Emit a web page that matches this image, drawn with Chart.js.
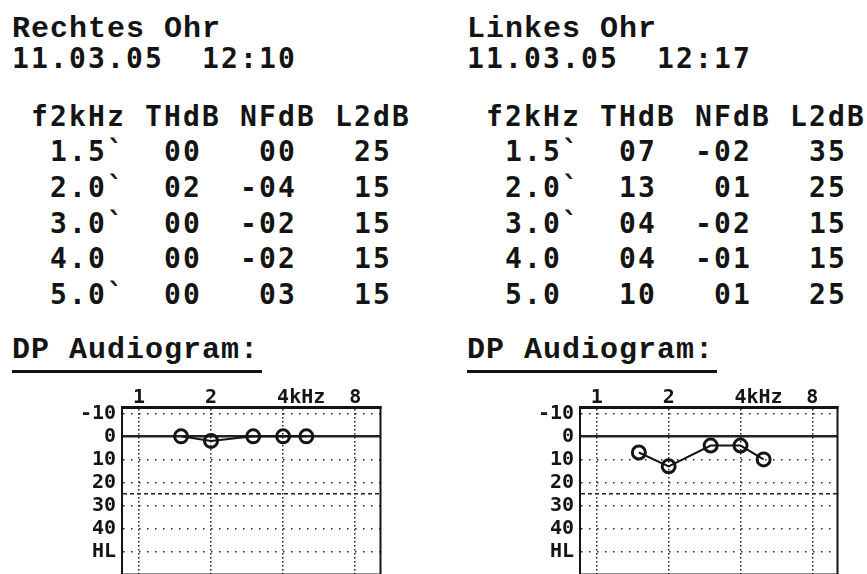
<!DOCTYPE html>
<html>
<head>
<meta charset="utf-8">
<script src="https://cdn.jsdelivr.net/npm/chart.js@4"></script>
<style>
html, body { margin: 0; padding: 0; background: #fff; overflow: hidden; }
body { width: 867px; height: 574px; position: relative; }
.t { position: absolute; white-space: pre; color: #141414; font-weight: bold; line-height: 0; }
.mono { font-family: 'DejaVu Sans Mono'; font-size: 28px; letter-spacing: 2.14px; }
.ser { font-family: 'Liberation Mono'; font-size: 30px; letter-spacing: 1px; }
.rule { position: absolute; height: 3px; background: #141414; }
canvas { position: absolute; }
</style>
</head>
<body>
<canvas id="rightEar" width="320" height="204" style="left:70px;top:380px;width:320px;height:204px"></canvas>
<canvas id="leftEar" width="319" height="204" style="left:528px;top:380px;width:319px;height:204px"></canvas>
<script>
// f2 frequencies in kHz
const freqs = [1.5, 2.0, 3.0, 4.0, 5.0];

// Rechtes Ohr
const rightMarks = ['`', '`', '`', ' ', '`'];
const rightTH = [0, 2, 0, 0, 0];
const rightNF = [0, -4, -2, -2, 3];
const rightL2 = [25, 15, 15, 15, 15];

// Linkes Ohr
const leftMarks = ['`', '`', '`', ' ', ' '];
const leftTH = [7, 13, 4, 4, 10];
const leftNF = [-2, 1, -2, -1, 1];
const leftL2 = [35, 25, 15, 15, 25];

const xTicks = [1, 2, 4, 8];
const xTickLabels = ['1', '2', '4kHz', '8'];
const yTicks = [-10, 0, 10, 20, 25, 30, 40, 50];

function pad2(v) { return String(Math.abs(v)).padStart(2, '0'); }
function nf(v) { return (v < 0 ? '-' : ' ') + pad2(v); }

function put(txt, x, base, cls) {
    var d = document.createElement('div');
    d.className = 't ' + cls;
    d.textContent = txt;
    var off = cls === 'mono' ? 9.7 : 8.0;
    d.style.left = x + 'px';
    d.style.top = (base - off) + 'px';
    document.body.appendChild(d);
}

function block(x0, dy, title, time, marks, th, nfv, l2) {
    put(title, x0, 37 + dy, 'ser');
    put('11.03.05  ' + time, x0, 69 + dy, 'mono');
    put(' f2kHz THdB NFdB L2dB', x0, 127 + dy, 'mono');
    for (var i = 0; i < freqs.length; i++) {
        var line = '  ' + freqs[i].toFixed(1) + marks[i] + '  ' + pad2(th[i]) + '  ' + nf(nfv[i]) + '   ' + l2[i];
        put(line, x0, 162 + dy + i * 35.7, 'mono');
    }
    put('DP Audiogram:', x0, 358, 'ser');
    var r = document.createElement('div');
    r.className = 'rule';
    r.style.left = x0 + 'px';
    r.style.top = '370px';
    r.style.width = '250px';
    document.body.appendChild(r);
}

block(12, 0, 'Rechtes Ohr', '12:10', rightMarks, rightTH, rightNF, rightL2);
block(467, 0, 'Linkes Ohr', '12:17', leftMarks, leftTH, leftNF, leftL2);

const framePlugin = {
    id: 'frame',
    afterDraw: function (chart) {
        var a = chart.chartArea;
        var ctx = chart.ctx;
        ctx.save();
        ctx.strokeStyle = '#141414';
        ctx.lineWidth = 2;
        ctx.strokeRect(a.left, a.top, a.right - a.left, a.bottom - a.top);
        ctx.restore();
    }
};

const tickFont = { family: 'DejaVu Sans Mono', size: 20, weight: 'bold' };

function makeChart(id, th) {
    return new Chart(document.getElementById(id), {
        type: 'line',
        data: {
            datasets: [{
                data: freqs.map(function (f, i) { return { x: f, y: th[i] }; }),
                borderColor: '#141414',
                borderWidth: 2,
                pointRadius: 6.5,
                pointBorderWidth: 3,
                pointBackgroundColor: 'rgba(0,0,0,0)',
                pointBorderColor: '#141414',
                tension: 0
            }]
        },
        options: {
            responsive: false,
            animation: false,
            events: [],
            layout: { padding: { left: 0, right: 9, top: 0, bottom: 0 } },
            plugins: { legend: { display: false }, tooltip: { enabled: false } },
            scales: {
                x: {
                    type: 'logarithmic',
                    position: 'top',
                    min: 0.85,
                    max: 10.2,
                    afterBuildTicks: function (s) { s.ticks = xTicks.map(function (v) { return { value: v }; }); },
                    afterFit: function (s) { s.height = 27; s.paddingLeft = 0; s.paddingRight = 0; },
                    grid: { color: '#222', lineWidth: 1.5, drawTicks: false },
                    border: { display: true, color: '#141414', width: 3, dash: function (c) { return c.tick ? [1.5, 2.5] : []; } },
                    ticks: {
                        align: 'start',
                        labelOffset: -6,
                        padding: -3,
                        color: '#141414',
                        font: tickFont,
                        autoSkip: false,
                        maxRotation: 0,
                        callback: function (v, i) { return xTickLabels[i]; }
                    }
                },
                y: {
                    type: 'linear',
                    reverse: true,
                    min: -12.75,
                    max: 60,
                    afterBuildTicks: function (s) { s.ticks = yTicks.map(function (v) { return { value: v }; }); },
                    afterFit: function (s) { s.width = 52; s.paddingTop = 0; s.paddingBottom = 0; },
                    grid: {
                        color: '#222',
                        drawTicks: false,
                        lineWidth: function (c) { return c.tick && c.tick.value === 0 ? 2.5 : 1.5; }
                    },
                    border: {
                        display: true, color: '#141414', width: 2,
                        dash: function (c) {
                            if (!c.tick || c.tick.value === 0) return [];
                            if (c.tick.value === 25) return [4, 3];
                            return [1.5, 6.5];
                        }
                    },
                    ticks: {
                        padding: 6,
                        color: '#141414',
                        font: tickFont,
                        autoSkip: false,
                        callback: function (v) { return v === 50 ? 'HL' : (v === 25 ? '' : String(v)); }
                    }
                }
            }
        },
        plugins: [framePlugin]
    });
}

makeChart('rightEar', rightTH);
makeChart('leftEar', leftTH);
</script>
</body>
</html>
